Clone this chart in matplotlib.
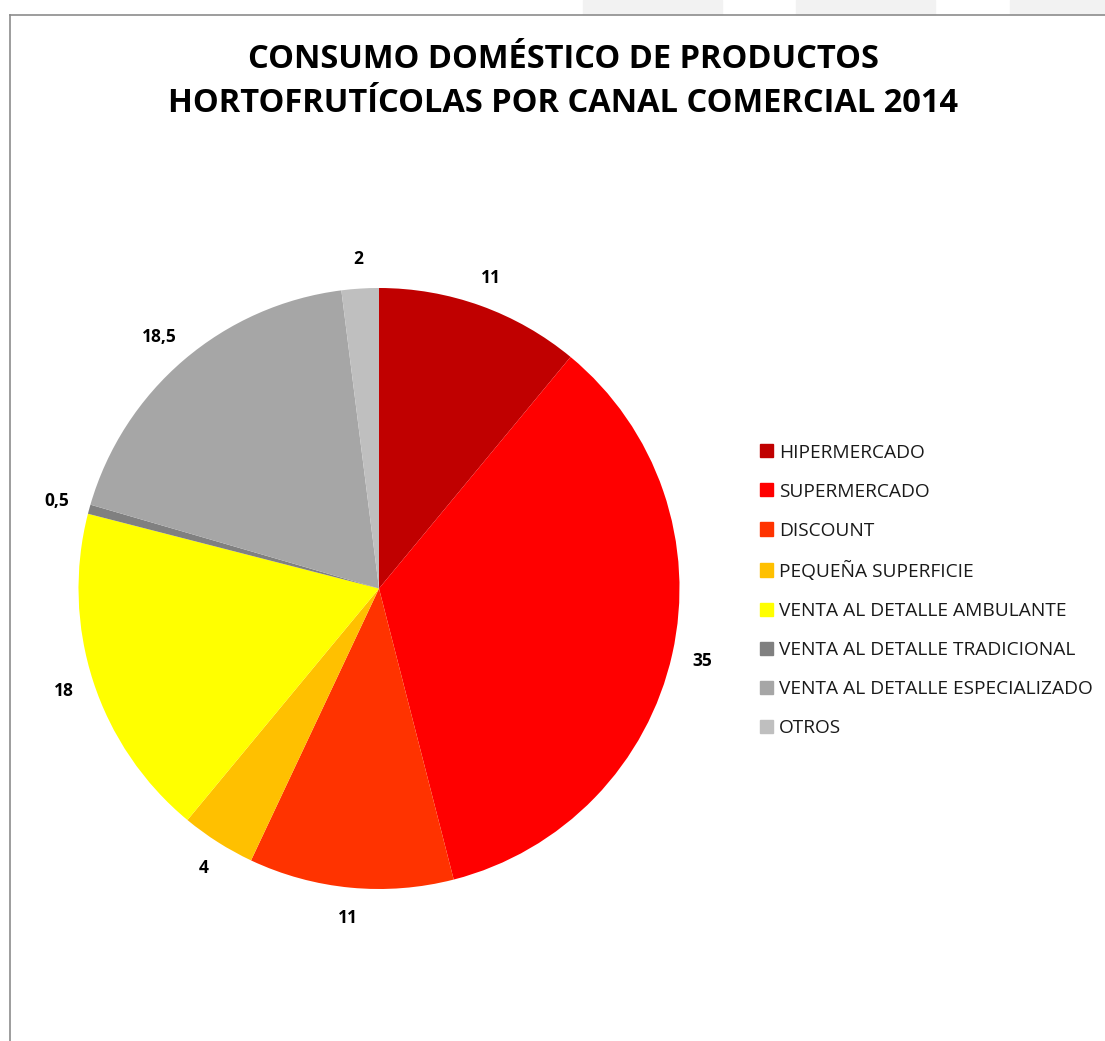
import numpy as np
import matplotlib
matplotlib.use("Agg")
import matplotlib.pyplot as plt
from matplotlib.patches import Rectangle
from matplotlib.lines import Line2D
from matplotlib.transforms import offset_copy

categories = ["HIPERMERCADO", "SUPERMERCADO", "DISCOUNT", "PEQUEÑA SUPERFICIE",
              "VENTA AL DETALLE AMBULANTE", "VENTA AL DETALLE TRADICIONAL",
              "VENTA AL DETALLE ESPECIALIZADO", "OTROS"]
values = [11, 35, 11, 4, 18, 0.5, 18.5, 2]
value_labels = ["11", "35", "11", "4", "18", "0,5", "18,5", "2"]
colors = ["#C00000", "#FF0000", "#FF3300", "#FFC000", "#FFFF00",
          "#808080", "#A6A6A6", "#BFBFBF"]
title = "CONSUMO DOMÉSTICO DE PRODUCTOS\nHORTOFRUTÍCOLAS POR CANAL COMERCIAL 2014"

W, H = 1105, 1041
fig = plt.figure(figsize=(W / 100, H / 100), dpi=100)
plt.rcParams['font.family'] = ['Open Sans', 'DejaVu Sans']

# browser-ish artifacts and frame
for x0, x1 in [(583, 722), (796, 935), (1010, 1105)]:
    fig.patches.append(Rectangle((x0 / W, 1 - 14 / H), (x1 - x0) / W, 14 / H,
                                 transform=fig.transFigure, color="#F2F2F2", zorder=0))
fig.lines.append(Line2D([9.5 / W, 1], [1 - 15 / H, 1 - 15 / H], transform=fig.transFigure,
                        color="#8C8C8C", lw=1.2))
fig.lines.append(Line2D([9.5 / W, 9.5 / W], [0, 1 - 15 / H], transform=fig.transFigure,
                        color="#8C8C8C", lw=1.2))

cx, cy, r = 379, 588.5, 300.5
ax = fig.add_axes([(cx - r) / W, (H - cy - r) / H, 2 * r / W, 2 * r / H])
wedges, _ = ax.pie(values, colors=colors, startangle=90, counterclock=False,
                   wedgeprops=dict(linewidth=0))
ax.set_xlim(-1, 1)
ax.set_ylim(-1, 1)

# outside-end data labels: box placed a fixed gap beyond the rim
fig.canvas.draw()
renderer = fig.canvas.get_renderer()
R = 1.07
for w, lab in zip(wedges, value_labels):
    ang = np.deg2rad((w.theta1 + w.theta2) / 2)
    c, s = np.cos(ang), np.sin(ang)
    t = ax.text(R * c, R * s, lab, ha="center", va="center", fontsize=12.5,
                fontweight="bold", color="black")
    bb = t.get_window_extent(renderer)
    dx = bb.width / 2 * c * 72 / fig.dpi
    dy = bb.height / 2 * s * 72 / fig.dpi
    t.set_transform(offset_copy(ax.transData, fig=fig, x=dx, y=dy, units="points"))

fig.text(563 / W, 1 - 81.5 / H, title, ha="center", va="center", fontsize=23.5,
         fontweight="bold", linespacing=1.43, color="black")

handles = [Rectangle((0, 0), 1, 1, color=c) for c in colors]
leg = fig.legend(handles, categories, loc="upper left",
                 bbox_to_anchor=(760 / W, 1 - 443.5 / H), frameon=False,
                 fontsize=13.8, handlelength=0.68, handleheight=0.68,
                 handletextpad=0.32, labelspacing=1.10, borderpad=0, borderaxespad=0)
for t in leg.get_texts():
    t.set_color("#1a1a1a")

fig.savefig("out.png", dpi=100, facecolor="white")
